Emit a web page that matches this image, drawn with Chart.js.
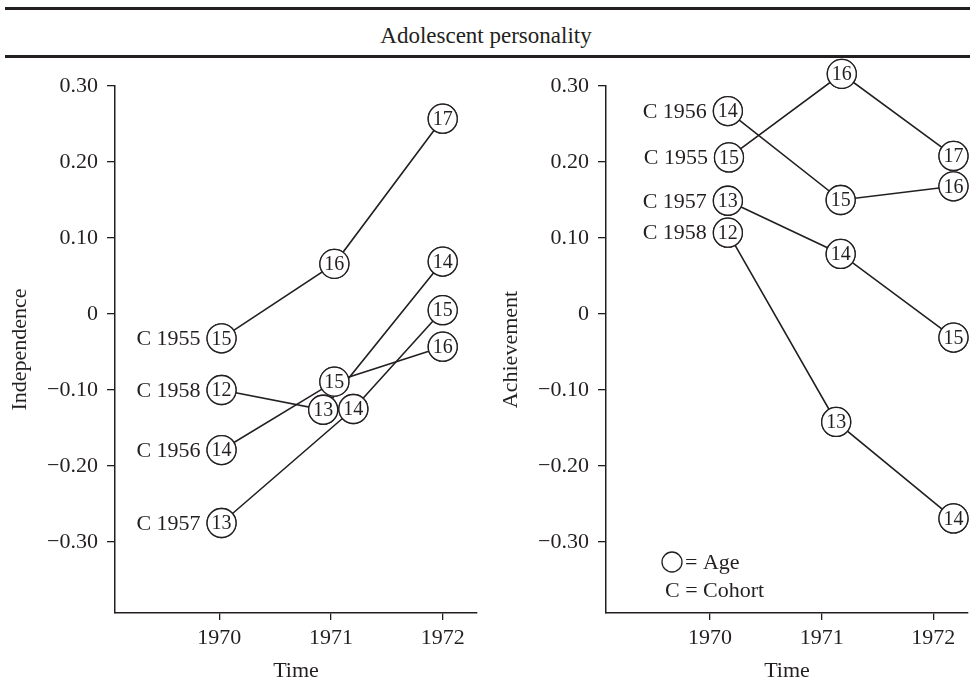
<!DOCTYPE html>
<html>
<head>
<meta charset="utf-8">
<script src="https://cdn.jsdelivr.net/npm/chart.js@4.4.1/dist/chart.umd.min.js"></script>
<style>
  html, body { margin: 0; padding: 0; background: #fff; }
  #page { position: relative; width: 970px; height: 682px; overflow: hidden; font-family: 'Liberation Serif', serif; color: #231f20; }
  .rule { position: absolute; left: 5px; right: 0; height: 3px; background: #231f20; }
  #title { position: absolute; left: 0; width: 972px; top: 24px; text-align: center; font-size: 23px; line-height: 23px; }
  canvas { position: absolute; top: 0; }
</style>
</head>
<body>
<div id="page">
  <div class="rule" style="top:7px"></div>
  <div id="title">Adolescent personality</div>
  <div class="rule" style="top:55px"></div>
  <canvas id="chart_0" width="485" height="682" style="left:0"></canvas>
  <canvas id="chart_1" width="485" height="682" style="left:485px"></canvas>
</div>
<script>
const INK = '#231f20';

// Axis ticks
const timeTicks = [1970, 1971, 1972];
const timeTickLabels = ['1970', '1971', '1972'];
const scoreTicks = [-0.3, -0.2, -0.1, 0, 0.1, 0.2, 0.3];
const scoreTickLabels = ['\u22120.30', '\u22120.20', '\u22120.10', '0', '0.10', '0.20', '0.30'];

// Cohorts and the age shown in each circle (1970, 1971, 1972)
const cohortLabels = ['C 1955', 'C 1956', 'C 1957', 'C 1958'];
const ages1955 = [15, 16, 17];
const ages1956 = [14, 15, 16];
const ages1957 = [13, 14, 15];
const ages1958 = [12, 13, 14];

// Independence panel (circles are nudged sideways in the original)
const indepTime1955 = [1970.02, 1971.03, 1972.0];
const indepValue1955 = [-0.032, 0.066, 0.257];
const indepTime1956 = [1970.02, 1971.03, 1972.0];
const indepValue1956 = [-0.179, -0.089, -0.043];
const indepTime1957 = [1970.02, 1971.2, 1972.0];
const indepValue1957 = [-0.275, -0.125, 0.005];
const indepTime1958 = [1970.02, 1970.93, 1972.0];
const indepValue1958 = [-0.100, -0.126, 0.069];

// Achievement panel
const achTime1955 = [1970.17, 1971.18, 1972.18];
const achValue1955 = [0.206, 0.316, 0.208];
const achTime1956 = [1970.16, 1971.17, 1972.18];
const achValue1956 = [0.267, 0.150, 0.168];
const achTime1957 = [1970.16, 1971.17, 1972.18];
const achValue1957 = [0.149, 0.079, -0.031];
const achTime1958 = [1970.16, 1971.13, 1972.18];
const achValue1958 = [0.107, -0.142, -0.269];

Chart.defaults.font.family = "'Liberation Serif', serif";
Chart.defaults.font.size = 22;
Chart.defaults.color = INK;

function makeSeries(label, times, values, ages) {
    return {
        label: label,
        data: times.map((t, i) => ({ x: t, y: values[i] })),
        ages: ages,
        borderColor: INK,
        borderWidth: 1.6,
        pointRadius: 14.5,
        pointBorderWidth: 1.3,
        pointBorderColor: INK,
        pointBackgroundColor: '#fff',
        showLine: true,
        clip: false
    };
}

// Redraw circles on top of every line, write the ages and cohort names
const ageCircles = {
    id: 'ageCircles',
    afterDatasetsDraw(chart) {
        const ctx = chart.ctx;
        chart.data.datasets.forEach((ds, i) => {
            const meta = chart.getDatasetMeta(i);
            meta.data.forEach((pt, j) => {
                pt.draw(ctx);
                ctx.save();
                ctx.font = "20px 'Liberation Serif'";
                ctx.fillStyle = INK;
                ctx.textAlign = 'center';
                ctx.textBaseline = 'middle';
                ctx.fillText(String(ds.ages[j]), pt.x, pt.y + 1);
                ctx.restore();
            });
            const first = meta.data[0];
            ctx.save();
            ctx.font = "22px 'Liberation Serif'";
            ctx.fillStyle = INK;
            ctx.textAlign = 'right';
            ctx.textBaseline = 'middle';
            ctx.fillText(ds.label, first.x - 21, first.y + 1);
            ctx.restore();
        });
    }
};

// "○ = Age / C = Cohort" key
const ageKey = {
    id: 'ageKey',
    afterDraw(chart, args, opts) {
        if (!opts || !opts.display) return;
        const ctx = chart.ctx;
        const { left, bottom } = chart.chartArea;
        ctx.save();
        ctx.strokeStyle = INK;
        ctx.lineWidth = 1.3;
        ctx.beginPath();
        ctx.arc(left + 66, bottom - 51, 10, 0, Math.PI * 2);
        ctx.stroke();
        ctx.font = "22px 'Liberation Serif'";
        ctx.fillStyle = INK;
        ctx.textAlign = 'left';
        ctx.textBaseline = 'middle';
        ctx.fillText('= Age', left + 79, bottom - 50);
        ctx.fillText('C = Cohort', left + 59, bottom - 22);
        ctx.restore();
    }
};

function panelOptions(axisTitle, titleGap, yWidth, xMin, xMax, rightPad, showKey) {
    return {
        responsive: false,
        animation: false,
        events: [],
        layout: { autoPadding: false, padding: { top: 86, right: rightPad, bottom: 0, left: 0 } },
        plugins: {
            legend: { display: false },
            tooltip: { enabled: false },
            ageKey: { display: showKey }
        },
        scales: {
            x: {
                type: 'linear',
                min: xMin,
                max: xMax,
                afterBuildTicks: s => { s.ticks = timeTicks.map(v => ({ value: v })); },
                afterFit: s => { s.height = 69; s.paddingLeft = 0; s.paddingRight = 0; },
                ticks: {
                    callback: (v, i) => timeTickLabels[i],
                    padding: 5,
                    maxRotation: 0,
                    autoSkip: false
                },
                grid: { display: true, drawOnChartArea: false, drawTicks: true, tickLength: 7, color: INK, lineWidth: 1.3 },
                border: { display: true, color: INK, width: 1.5 },
                title: { display: true, text: 'Time', padding: { top: 0, bottom: -2 } }
            },
            y: {
                type: 'linear',
                min: -0.3934,
                max: 0.30,
                afterBuildTicks: s => { s.ticks = scoreTicks.map(v => ({ value: v })); },
                afterFit: s => { s.width = yWidth; s.paddingTop = 0; s.paddingBottom = 0; },
                ticks: {
                    callback: (v, i) => scoreTickLabels[i],
                    padding: 9,
                    autoSkip: false
                },
                grid: { display: true, drawOnChartArea: false, drawTicks: true, tickLength: 8, color: INK, lineWidth: 1.3 },
                border: { display: true, color: INK, width: 1.5 },
                title: { display: true, text: axisTitle, padding: { top: titleGap, bottom: 0 } }
            }
        }
    };
}

function createChart0() {
    const ctx = document.getElementById('chart_0');
    new Chart(ctx.getContext('2d'), {
        type: 'scatter',
        data: {
            datasets: [
                makeSeries(cohortLabels[0], indepTime1955, indepValue1955, ages1955),
                makeSeries(cohortLabels[3], indepTime1958, indepValue1958, ages1958),
                makeSeries(cohortLabels[1], indepTime1956, indepValue1956, ages1956),
                makeSeries(cohortLabels[2], indepTime1957, indepValue1957, ages1957)
            ]
        },
        options: panelOptions('Independence', 7, 115, 1969.066, 1972.307, 8, false),
        plugins: [ageCircles, ageKey]
    });
}

function createChart1() {
    const ctx = document.getElementById('chart_1');
    new Chart(ctx.getContext('2d'), {
        type: 'scatter',
        data: {
            datasets: [
                makeSeries(cohortLabels[1], achTime1956, achValue1956, ages1956),
                makeSeries(cohortLabels[0], achTime1955, achValue1955, ages1955),
                makeSeries(cohortLabels[2], achTime1957, achValue1957, ages1957),
                makeSeries(cohortLabels[3], achTime1958, achValue1958, ages1958)
            ]
        },
        options: panelOptions('Achievement', 13, 121, 1969.069, 1972.31, 2, true),
        plugins: [ageCircles, ageKey]
    });
}

document.addEventListener('DOMContentLoaded', function () {
    createChart0();
    createChart1();
});
</script>
</body>
</html>
